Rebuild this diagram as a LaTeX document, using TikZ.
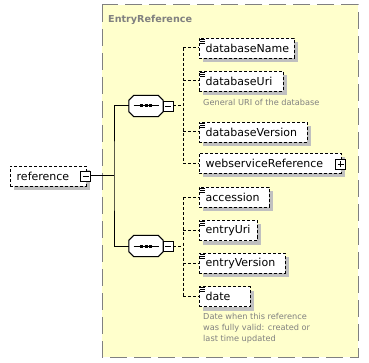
\documentclass[tikz,border=0pt]{standalone}
\usepackage{fontspec}
\setmainfont{DejaVu Sans}
\usetikzlibrary{shadows}

\definecolor{groupfill}{RGB}{255,255,204}
\definecolor{groupline}{RGB}{128,128,128}
\definecolor{shadowgray}{RGB}{192,192,192}
\definecolor{doctext}{RGB}{128,128,128}

\tikzset{
  boxshadow/.style={general shadow={fill=shadowgray, shadow xshift=4pt, shadow yshift=-4pt}},
  elem/.style={draw, dash pattern=on 3pt off 2pt, fill=white, anchor=west,
    minimum height=20pt, inner xsep=6.5pt, inner ysep=0pt, text width=#1,
    align=left, font=\fontsize{11}{13}\selectfont, boxshadow},
  seqbox/.style={minimum width=34pt, minimum height=21pt, inner sep=0pt},
  pmbox/.style={draw, fill=white, minimum size=10pt, inner sep=0pt,
    path picture={\draw ([xshift=2pt]path picture bounding box.west) -- ([xshift=-2pt]path picture bounding box.east);}},
  plusbox/.style={draw, fill=white, minimum size=10pt, inner sep=0pt,
    path picture={\draw ([xshift=2pt]path picture bounding box.west) -- ([xshift=-2pt]path picture bounding box.east);
      \draw ([yshift=2pt]path picture bounding box.south) -- ([yshift=-2pt]path picture bounding box.north);}},
  link/.style={line width=1pt},
  dlink/.style={line width=1pt, dash pattern=on 3pt off 2pt},
  doc/.style={anchor=base west, inner sep=0pt, text=doctext, font=\fontsize{8.2}{11}\selectfont},
}

\begin{document}
\begin{tikzpicture}[x=1pt,y=-1pt]
  \useasboundingbox (0,0) rectangle (369,363);
  % the complex type around both sequences
  \draw[groupline, fill=groupfill, line width=1pt, dash pattern=on 17pt off 7pt] (102,5) rectangle (358,357);
  \node[anchor=base west, inner sep=0pt, text=groupline, font=\bfseries\fontsize{9.6}{11}\selectfont] (title) at (108,23) {EntryReference};

  \node[elem=63pt] (ref) at (10,176) {reference};
  \node[pmbox] (refm) at (85.5,176) {};

  \node[seqbox] (seq1) at (146,106) {};
  \node[seqbox] (seq2) at (146,246) {};
  \foreach \s in {seq1,seq2} {
    % octagon with its shadow
    \foreach \sx/\fcol/\dcol in {4/shadowgray/shadowgray,0/white/black}
      \filldraw[fill=\fcol, draw=\dcol, line width=1pt, shift={(\sx,\sx)}]
        ([xshift=5pt]\s.north west) -- ([xshift=-5pt]\s.north east) -- ([yshift=-5pt]\s.north east)
        -- ([yshift=5pt]\s.south east) -- ([xshift=-5pt]\s.south east) -- ([xshift=5pt]\s.south west)
        -- ([yshift=5pt]\s.south west) -- ([yshift=-5pt]\s.north west) -- cycle;
    \draw[link] ([xshift=-12.5pt]\s.center) -- ([xshift=12.5pt]\s.center);
    \foreach \dx in {-4.7,0,4.7}
      \draw[line width=3pt] ([xshift=\dx pt-1.5pt]\s.center) -- ([xshift=\dx pt+1.5pt]\s.center);
  }
  \node[pmbox] (seq1m) at (168,106) {};
  \node[pmbox] (seq2m) at (168,246) {};

  % first sequence
  \node[elem=82pt] (dbname) at (199,48) {databaseName};
  \node[elem=71pt] (dburi) at (199,81) {databaseUri};
  \node[doc] (dburidoc) at (203,106) {General URI of the database};
  \node[elem=95pt] (dbver) at (199,132) {databaseVersion};
  \node[elem=129pt] (wsref) at (199,163.5) {webserviceReference};
  \node[plusbox] (wsrefp) at (340.5,164.5) {};

  % second sequence
  \node[elem=57pt] (acc) at (199,197.5) {accession};
  \node[elem=45pt] (enturi) at (199,230.5) {entryUri};
  \node[elem=73pt] (entver) at (199,263) {entryVersion};
  \node[elem=38pt] (date) at (199,296.5) {date};
  \node[doc, align=left, anchor=north west] (datedoc) at (203,313) {Date when this reference\\was fully valid: created or\\last time updated};

  % simple type marks
  \foreach \n in {dbname,dburi,dbver,acc,enturi,entver,date}
    \foreach \dy in {1.5,3.5,5.5}
      \draw[line width=0.9pt] ([xshift=0.5pt,yshift=-\dy pt]\n.north west) -- ++(5.5,0);

  % connectors
  \coordinate (fork) at (114,176);
  \draw[link] (refm) -- (fork);
  \draw[link] (seq1.west) -| (fork) |- (seq2.west);

  \coordinate (b1) at (183,106);
  \draw[dlink] (seq1m) -- (b1);
  \draw[dlink] (b1 |- dbname.west) -- (b1 |- wsref.west);
  \foreach \n in {dbname,dburi,dbver,wsref}
    \draw[dlink] (b1 |- \n.west) -- (\n.west);

  \coordinate (b2) at (183,246);
  \draw[dlink] (seq2m) -- (b2);
  \draw[dlink] (b2 |- acc.west) -- (b2 |- date.west);
  \foreach \n in {acc,enturi,entver,date}
    \draw[dlink] (b2 |- \n.west) -- (\n.west);
\end{tikzpicture}
\end{document}
